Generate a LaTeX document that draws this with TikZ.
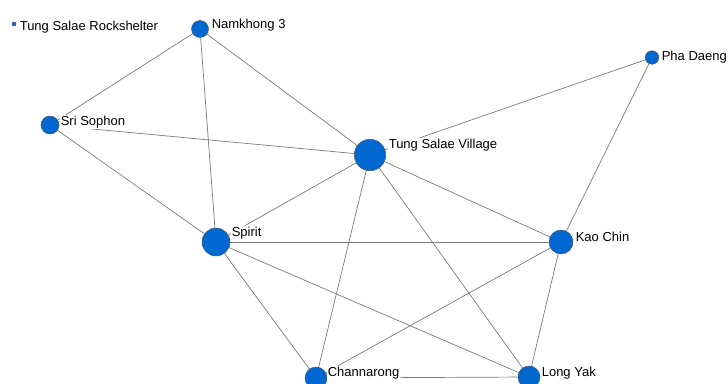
\documentclass[tikz,border=0pt]{standalone}
\usepackage{fontspec}
\setmainfont{Liberation Sans}
\usetikzlibrary{backgrounds}
\definecolor{nodeblue}{HTML}{0068D0}
\definecolor{edgegray}{HTML}{7A7A7A}
\definecolor{rimgray}{HTML}{4A5A6A}
\begin{document}
\begin{tikzpicture}[x=1pt,y=-1pt,
  site/.style={circle,fill=nodeblue,draw=rimgray,line width=0.5pt,inner sep=0pt,minimum size=#1},
  lbl/.style={anchor=west,fill=white,inner sep=0.6pt,font=\fontsize{13}{14}\selectfont},
  edge/.style={draw=edgegray,line width=0.7pt}]
\useasboundingbox (0,0) rectangle (728,383);
% nodes
\node[site=4pt] (rs) at (14,24) {};
\node[site=17pt] (nk) at (200,29) {};
\node[site=13.5pt] (pd) at (652,57.5) {};
\node[site=18pt] (ss) at (50,125) {};
\node[site=31.5pt] (tsv) at (370,155) {};
\node[site=28pt] (sp) at (216,242) {};
\node[site=24pt] (kc) at (561,242) {};
\node[site=22pt] (ch) at (316,378) {};
\node[site=22pt] (ly) at (529,377) {};
% edges behind nodes
\begin{scope}[on background layer]
\path[edge] (nk.center) -- (ss.center);
\path[edge] (nk.center) -- (sp.center);
\path[edge] (nk.center) -- (tsv.center);
\path[edge] (ss.center) -- (tsv.center);
\path[edge] (ss.center) -- (sp.center);
\path[edge] (pd.center) -- (tsv.center);
\path[edge] (pd.center) -- (kc.center);
\path[edge] (tsv.center) -- (sp.center);
\path[edge] (tsv.center) -- (kc.center);
\path[edge] (tsv.center) -- (ch.center);
\path[edge] (tsv.center) -- (ly.center);
\path[edge] (sp.center) -- (kc.center);
\path[edge] (sp.center) -- (ch.center);
\path[edge] (sp.center) -- (ly.center);
\path[edge] (kc.center) -- (ch.center);
\path[edge] (kc.center) -- (ly.center);
\path[edge] (ch.center) -- (ly.center);
\end{scope}
% labels
\node[lbl] (lrs) at (19,27) {Tung Salae Rockshelter};
\node[lbl] (lnk) at (211,25) {Namkhong 3};
\node[lbl] (lss) at (60,122) {Sri Sophon};
\node[lbl] (ltsv) at (388,145) {Tung Salae Village};
\node[lbl] (lpd) at (661,57) {Pha Daeng};
\node[lbl] (lkc) at (575,237) {Kao Chin};
\node[lbl] (lsp) at (231,233) {Spirit};
\node[lbl] (lch) at (327,373) {Channarong};
\node[lbl] (lly) at (541,373) {Long Yak};
\end{tikzpicture}
\end{document}
